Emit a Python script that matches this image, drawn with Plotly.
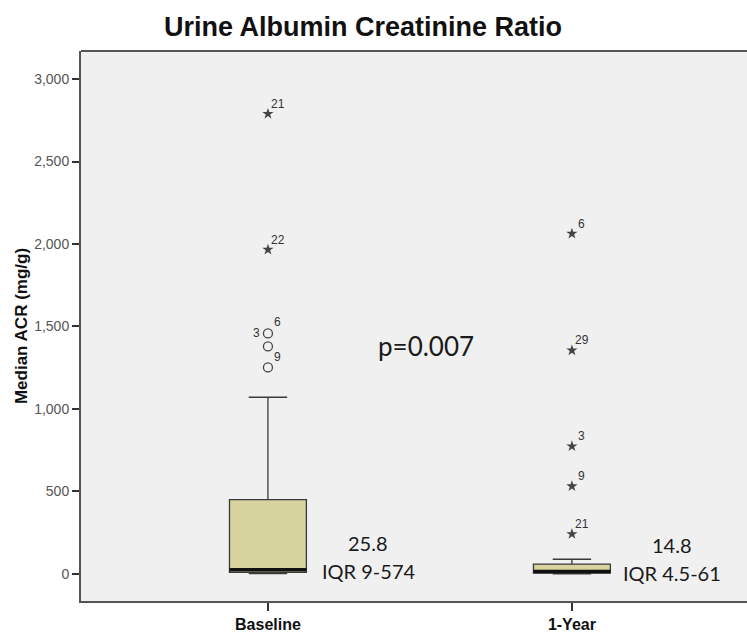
import plotly.graph_objects as go

# Group summary values (mg/g)
groups = ["Baseline", "1-Year"]
q1 = [9, 4.5]
median = [25.8, 14.8]
q3 = [450, 60]
lower_fence = [2, 1]
upper_fence = [1071, 89]

# Outliers: (value, case label)
base_mild = [1458, 1379, 1252]
base_mild_labels = ["6", "3", "9"]
base_extreme = [2789, 1966]
base_extreme_labels = ["21", "22"]
year_extreme = [2063, 1355, 774, 532, 242]
year_extreme_labels = ["6", "29", "3", "9", "21"]

# Text summaries
median_text = ["25.8", "14.8"]
iqr_text = ["IQR 9-574", "IQR 4.5-61"]
p_text = "p=0.007"

ytick_vals = [0, 500, 1000, 1500, 2000, 2500, 3000]
ytick_text = ["0", "500", "1,000", "1,500", "2,000", "2,500", "3,000"]

BOX_W = 0.253
FILL = "#d6d39f"
LINE = "#3a3a3a"
TXT_FONT = "Lato"

fig = go.Figure()

xs = [0, 1]
for i, g in enumerate(groups):
    fig.add_trace(go.Box(
        x=[xs[i]], q1=[q1[i]], median=[median[i]], q3=[q3[i]],
        lowerfence=[lower_fence[i]], upperfence=[upper_fence[i]],
        width=BOX_W, whiskerwidth=0.5,
        fillcolor=FILL, line=dict(color=LINE, width=1.3),
        boxpoints=False, hoverinfo="skip", showlegend=False,
    ))
    # heavy median bar
    fig.add_trace(go.Scatter(
        x=[xs[i] - BOX_W / 2, xs[i] + BOX_W / 2], y=[median[i], median[i]],
        mode="lines", line=dict(color="#111111", width=3.5),
        hoverinfo="skip", showlegend=False,
    ))

# Outlier markers
fig.add_trace(go.Scatter(
    x=[0] * len(base_mild), y=base_mild, mode="markers",
    marker=dict(symbol="circle-open", size=9, color="#444444", line=dict(width=1.3)),
    hoverinfo="skip", showlegend=False,
))
fig.add_trace(go.Scatter(
    x=[0] * len(base_extreme) + [1] * len(year_extreme),
    y=base_extreme + year_extreme, mode="markers",
    marker=dict(symbol="star", size=8.5, color="#444444", line=dict(width=0)),
    hoverinfo="skip", showlegend=False,
))

annotations = []

def case_label(x, y, text, dx=10, dy=10):
    annotations.append(dict(
        x=x, y=y, xref="x", yref="y", text=text, showarrow=False,
        xshift=dx, yshift=dy, font=dict(family="Liberation Sans", size=12, color="#333333"),
    ))

for v, t in zip(base_extreme, base_extreme_labels):
    case_label(0, v, t)
offsets = [(10, 11), (-11, 13), (10, 10)]
for v, t, (dx, dy) in zip(base_mild, base_mild_labels, offsets):
    case_label(0, v, t, dx, dy)
for v, t in zip(year_extreme, year_extreme_labels):
    case_label(1, v, t)

# Median / IQR summaries beside each box
for i in range(2):
    annotations.append(dict(
        x=xs[i] + 0.33, y=median[i], xref="x", yref="y", text=median_text[i],
        showarrow=False, yshift=27, font=dict(family=TXT_FONT, size=20, color="#1a1a1a"),
    ))
    annotations.append(dict(
        x=xs[i] + 0.33, y=median[i], xref="x", yref="y", text=iqr_text[i],
        showarrow=False, yshift=-1, font=dict(family=TXT_FONT, size=20, color="#1a1a1a"),
    ))

annotations.append(dict(
    x=0.52, y=1380, xref="x", yref="y", text=p_text, showarrow=False,
    font=dict(family=TXT_FONT, size=26, color="#1a1a1a"),
))

fig.update_layout(
    width=747, height=637,
    margin=dict(l=81, r=0, t=51, b=36),
    paper_bgcolor="white", plot_bgcolor="#f0f0f0",
    title=dict(text="<b>Urine Albumin Creatinine Ratio</b>", x=0.486, xanchor="center",
               y=0.959, yanchor="middle",
               font=dict(family="Liberation Sans", size=27, color="#111111")),
    annotations=annotations,
    shapes=[dict(type="line", xref="paper", yref="paper", x0=0, x1=1, y0=1, y1=1,
                 line=dict(color="#555555", width=2))],
    font=dict(family="Liberation Sans"),
)

fig.update_xaxes(
    range=[-0.615, 1.576], tickvals=xs, ticktext=["<b>%s</b>" % g for g in groups],
    showgrid=False, zeroline=False, showline=True, linecolor="#555555", linewidth=2,
    ticks="outside", ticklen=8, tickcolor="#333333", tickwidth=1.5,
    tickfont=dict(family="Liberation Sans", size=16, color="#111111"),
)
fig.update_yaxes(
    range=[-164, 3170], tickvals=ytick_vals, ticktext=ytick_text,
    showgrid=False, zeroline=False, showline=True, linecolor="#555555", linewidth=2,
    ticks="outside", ticklen=7, tickcolor="#333333", tickwidth=1.5,
    tickfont=dict(family="Liberation Sans", size=14, color="#555555"),
    title=dict(text="<b>Median ACR (mg/g)</b>", standoff=2,
               font=dict(family="Liberation Sans", size=17, color="#111111")),
)

fig.write_html("out.html")
